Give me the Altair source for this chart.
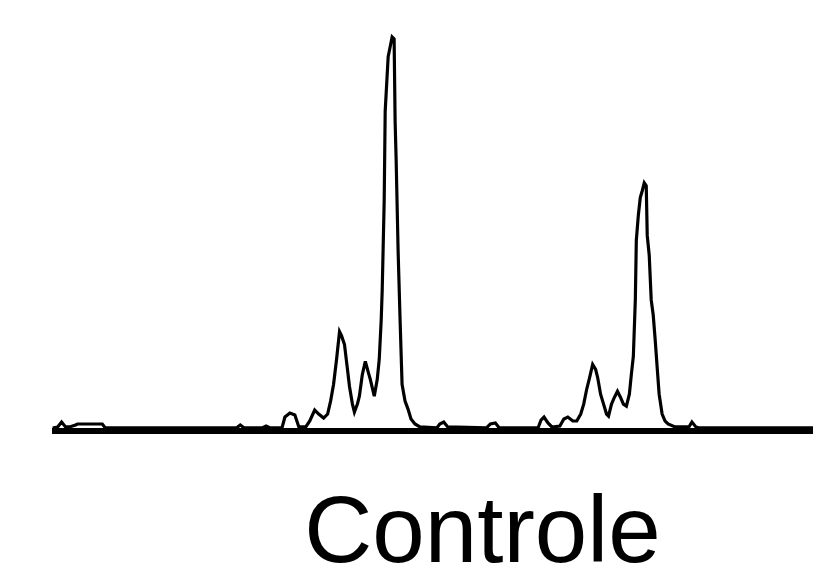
import altair as alt
import pandas as pd

# Chromatogram trace (scan index, detector response)
scan = [0, 5, 9, 13, 17, 23, 25, 50, 53, 185, 189, 193, 211, 215, 219, 231, 234, 239, 244, 248,
        255, 259, 264, 268, 273, 277, 280, 283, 286, 289, 291, 294, 297, 299, 302, 304, 307, 309,
        312, 315, 318, 320, 324, 327, 329, 331, 332, 334, 335, 338, 339, 342, 344, 345, 346, 348,
        350, 352, 355, 358, 361, 365, 370, 387, 390, 394, 398, 437, 441, 446, 450, 489, 492, 495,
        499, 503, 511, 515, 519, 524, 528, 532, 535, 538, 541, 544, 547, 549, 552, 555, 558, 560,
        563, 566, 569, 572, 575, 578, 581, 583, 585, 587, 588, 590, 592, 594, 596, 598, 599, 601,
        603, 605, 607, 609, 611, 614, 617, 620, 627, 641, 644, 648, 652, 766]
response = [0, 1, 6, 1, 1, 3, 4, 4, 0, 0, 3, 0, 0, 2, 0, 0, 11, 15, 13, 1,
            1, 7, 18, 14, 10, 14, 27, 44, 69, 97, 93, 84, 59, 42, 24, 16, 24, 32,
            54, 67, 56, 49, 32, 49, 69, 109, 139, 229, 319, 374, 379, 394, 392, 309, 272, 179,
            109, 44, 27, 19, 9, 4, 1, 0, 4, 6, 1, 0, 4, 5, 0, 0, 8, 11,
            5, 1, 2, 9, 11, 7, 7, 14, 24, 39, 51, 64, 59, 51, 34, 24, 14, 12,
            24, 31, 37, 31, 24, 22, 34, 54, 72, 129, 189, 214, 232, 239, 247, 244, 194, 174,
            129, 114, 89, 61, 34, 14, 7, 4, 1, 1, 6, 1, 0, 0]
label = ["Controle"]

df = pd.DataFrame({"scan": scan, "response": response, "order": list(range(len(scan)))})

x = alt.X("scan:Q", axis=None, scale=alt.Scale(domain=[0, 766], nice=False, zero=False))
y = alt.Y("response:Q", axis=None, scale=alt.Scale(domain=[0, 421], nice=False))

base_rule = alt.Chart(df).mark_rule(color="black", strokeWidth=6).encode(
    x=alt.value(0), x2=alt.value(766), y=alt.value(424)
)

trace = alt.Chart(df).mark_line(color="black", strokeWidth=3.2, interpolate="linear").encode(
    x=x, y=y, order="order:Q"
)

title = alt.Chart(pd.DataFrame({"t": label})).mark_text(
    font="Liberation Sans", fontSize=95, align="center", baseline="alphabetic", color="black"
).encode(text="t:N", x=alt.value(433), y=alt.value(556))

chart = alt.layer(base_rule, trace, title).properties(
    width=766, height=421,
    padding={"left": 45, "top": 0, "right": 0, "bottom": 137},
    autosize=alt.AutoSizeParams(type="none"),
    background="white",
).configure_view(stroke=None)

chart.save("out.html", embed_options={"renderer": "svg", "actions": False})
